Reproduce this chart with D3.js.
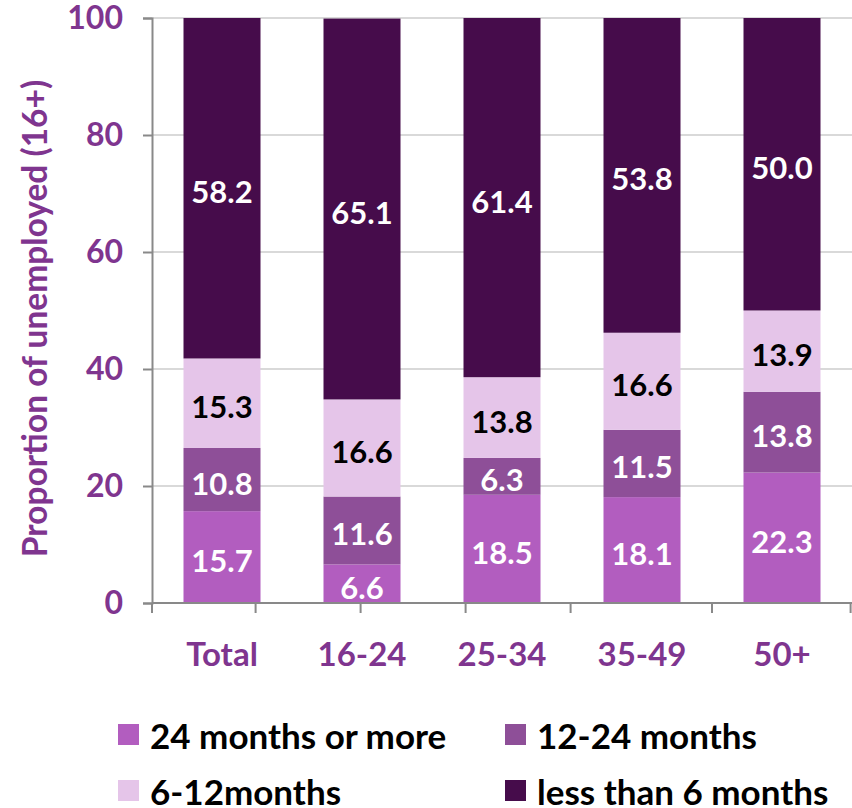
<!DOCTYPE html>
<html>
<head>
<meta charset="utf-8">
<script src="https://cdn.jsdelivr.net/npm/d3@7"></script>
<style>
  html, body { margin: 0; padding: 0; background: #ffffff; }
  svg { display: block; }
  text { font-family: Lato, "Open Sans", "Liberation Sans", sans-serif; font-weight: 700; }
</style>
</head>
<body>
<svg id="chart" width="852" height="808"></svg>
<script>
// ---- data ----
const categories = ["Total", "16-24", "25-34", "35-49", "50+"];
const seriesNames = ["24 months or more", "12-24 months", "6-12months", "less than 6 months"];
const months24plus = [15.7, 6.6, 18.5, 18.1, 22.3];
const months12to24 = [10.8, 11.6, 6.3, 11.5, 13.8];
const months6to12 = [15.3, 16.6, 13.8, 16.6, 13.9];
const lessThan6 = [58.2, 65.1, 61.4, 53.8, 50.0];
const yTicks = [0, 20, 40, 60, 80, 100];
const yTitle = "Proportion of unemployed (16+)";

// ---- styles ----
const colors = ["#b25dbf", "#8e4f98", "#e5c5e9", "#460c4b"];
const labelColors = ["#ffffff", "#ffffff", "#000000", "#ffffff"];
const axisTextColor = "#7f358f";

const svg = d3.select("#chart");
const margin = { left: 152, right: 0, top: 18, bottom: 205 };
const W = 852, H = 808;

const x = d3.scaleBand().domain(categories).range([margin.left, W - margin.right])
  .paddingInner(0.45).paddingOuter(0.225);
const y = d3.scaleLinear().domain([0, 100]).range([H - margin.bottom, margin.top]);

const table = categories.map((c, i) => ({
  cat: c,
  s0: months24plus[i], s1: months12to24[i], s2: months6to12[i], s3: lessThan6[i]
}));
const stack = d3.stack().keys(["s0", "s1", "s2", "s3"]);
const layers = stack(table);

// gridlines
svg.append("g").selectAll("line").data(yTicks.filter(t => t > 0)).join("line")
  .attr("x1", margin.left).attr("x2", W)
  .attr("y1", d => y(d)).attr("y2", d => y(d))
  .attr("stroke", "#d9d9d9").attr("stroke-width", 2);

// bars
const lg = svg.append("g").selectAll("g").data(layers).join("g")
  .attr("fill", (d, i) => colors[i]);
lg.selectAll("rect").data(d => d).join("rect")
  .attr("x", d => x(d.data.cat))
  .attr("width", x.bandwidth())
  .attr("y", d => y(d[1]))
  .attr("height", d => y(d[0]) - y(d[1]));

// data labels
layers.forEach((layer, li) => {
  svg.append("g").selectAll("text").data(layer).join("text")
    .attr("x", d => x(d.data.cat) + x.bandwidth() / 2)
    .attr("y", d => (y(d[0]) + y(d[1])) / 2 + 15)
    .attr("text-anchor", "middle")
    .attr("font-size", 31)
    .attr("fill", labelColors[li])
    .text(d => (d[1] - d[0]).toFixed(1));
});

// y axis
const yAxis = svg.append("g").attr("transform", `translate(${margin.left},0)`)
  .call(d3.axisLeft(y).tickValues(yTicks).tickSize(9).tickPadding(20).tickFormat(d3.format("d")));
yAxis.select(".domain").attr("stroke", "#898989").attr("stroke-width", 2);
yAxis.selectAll(".tick line").attr("stroke", "#898989").attr("stroke-width", 2);
yAxis.selectAll(".tick text").attr("fill", axisTextColor).attr("font-size", 32)
  .attr("font-family", "Lato, sans-serif").attr("font-weight", 700);

// x axis
const xAxisY = y(0);
svg.append("line").attr("x1", margin.left).attr("x2", W).attr("y1", xAxisY).attr("y2", xAxisY)
  .attr("stroke", "#898989").attr("stroke-width", 2);
// tick marks (Excel-style, irregular) on a category-unit scale
const xu = d3.scaleLinear().domain([0, categories.length]).range([margin.left, W]);
const tickUnits = [0, 0.74, 1.49, 2.24, 2.99, 4, 4.99];
svg.append("g").selectAll("line").data(tickUnits).join("line")
  .attr("x1", d => xu(d)).attr("x2", d => xu(d))
  .attr("y1", xAxisY).attr("y2", xAxisY + 10)
  .attr("stroke", "#898989").attr("stroke-width", 2);
svg.append("g").selectAll("text").data(categories).join("text")
  .attr("x", d => x(d) + x.bandwidth() / 2)
  .attr("y", 666)
  .attr("text-anchor", "middle")
  .attr("font-size", 33)
  .attr("fill", axisTextColor)
  .text(d => d);

// y title
svg.append("text")
  .attr("transform", `translate(47,${(y(0) + y(100)) / 2 + 8}) rotate(-90)`)
  .attr("text-anchor", "middle")
  .attr("font-size", 33.5)
  .attr("fill", axisTextColor)
  .text(yTitle);

// legend
const legendPos = [[118, 724], [505, 724], [118, 780], [505, 780]];
const leg = svg.append("g").selectAll("g").data(seriesNames).join("g")
  .attr("transform", (d, i) => `translate(${legendPos[i][0]},${legendPos[i][1]})`);
leg.append("rect").attr("width", 21).attr("height", 21).attr("fill", (d, i) => colors[i]);
leg.append("text").attr("x", 32).attr("y", 25).attr("font-size", 35).attr("fill", "#000")
  .text(d => d);
</script>
</body>
</html>
